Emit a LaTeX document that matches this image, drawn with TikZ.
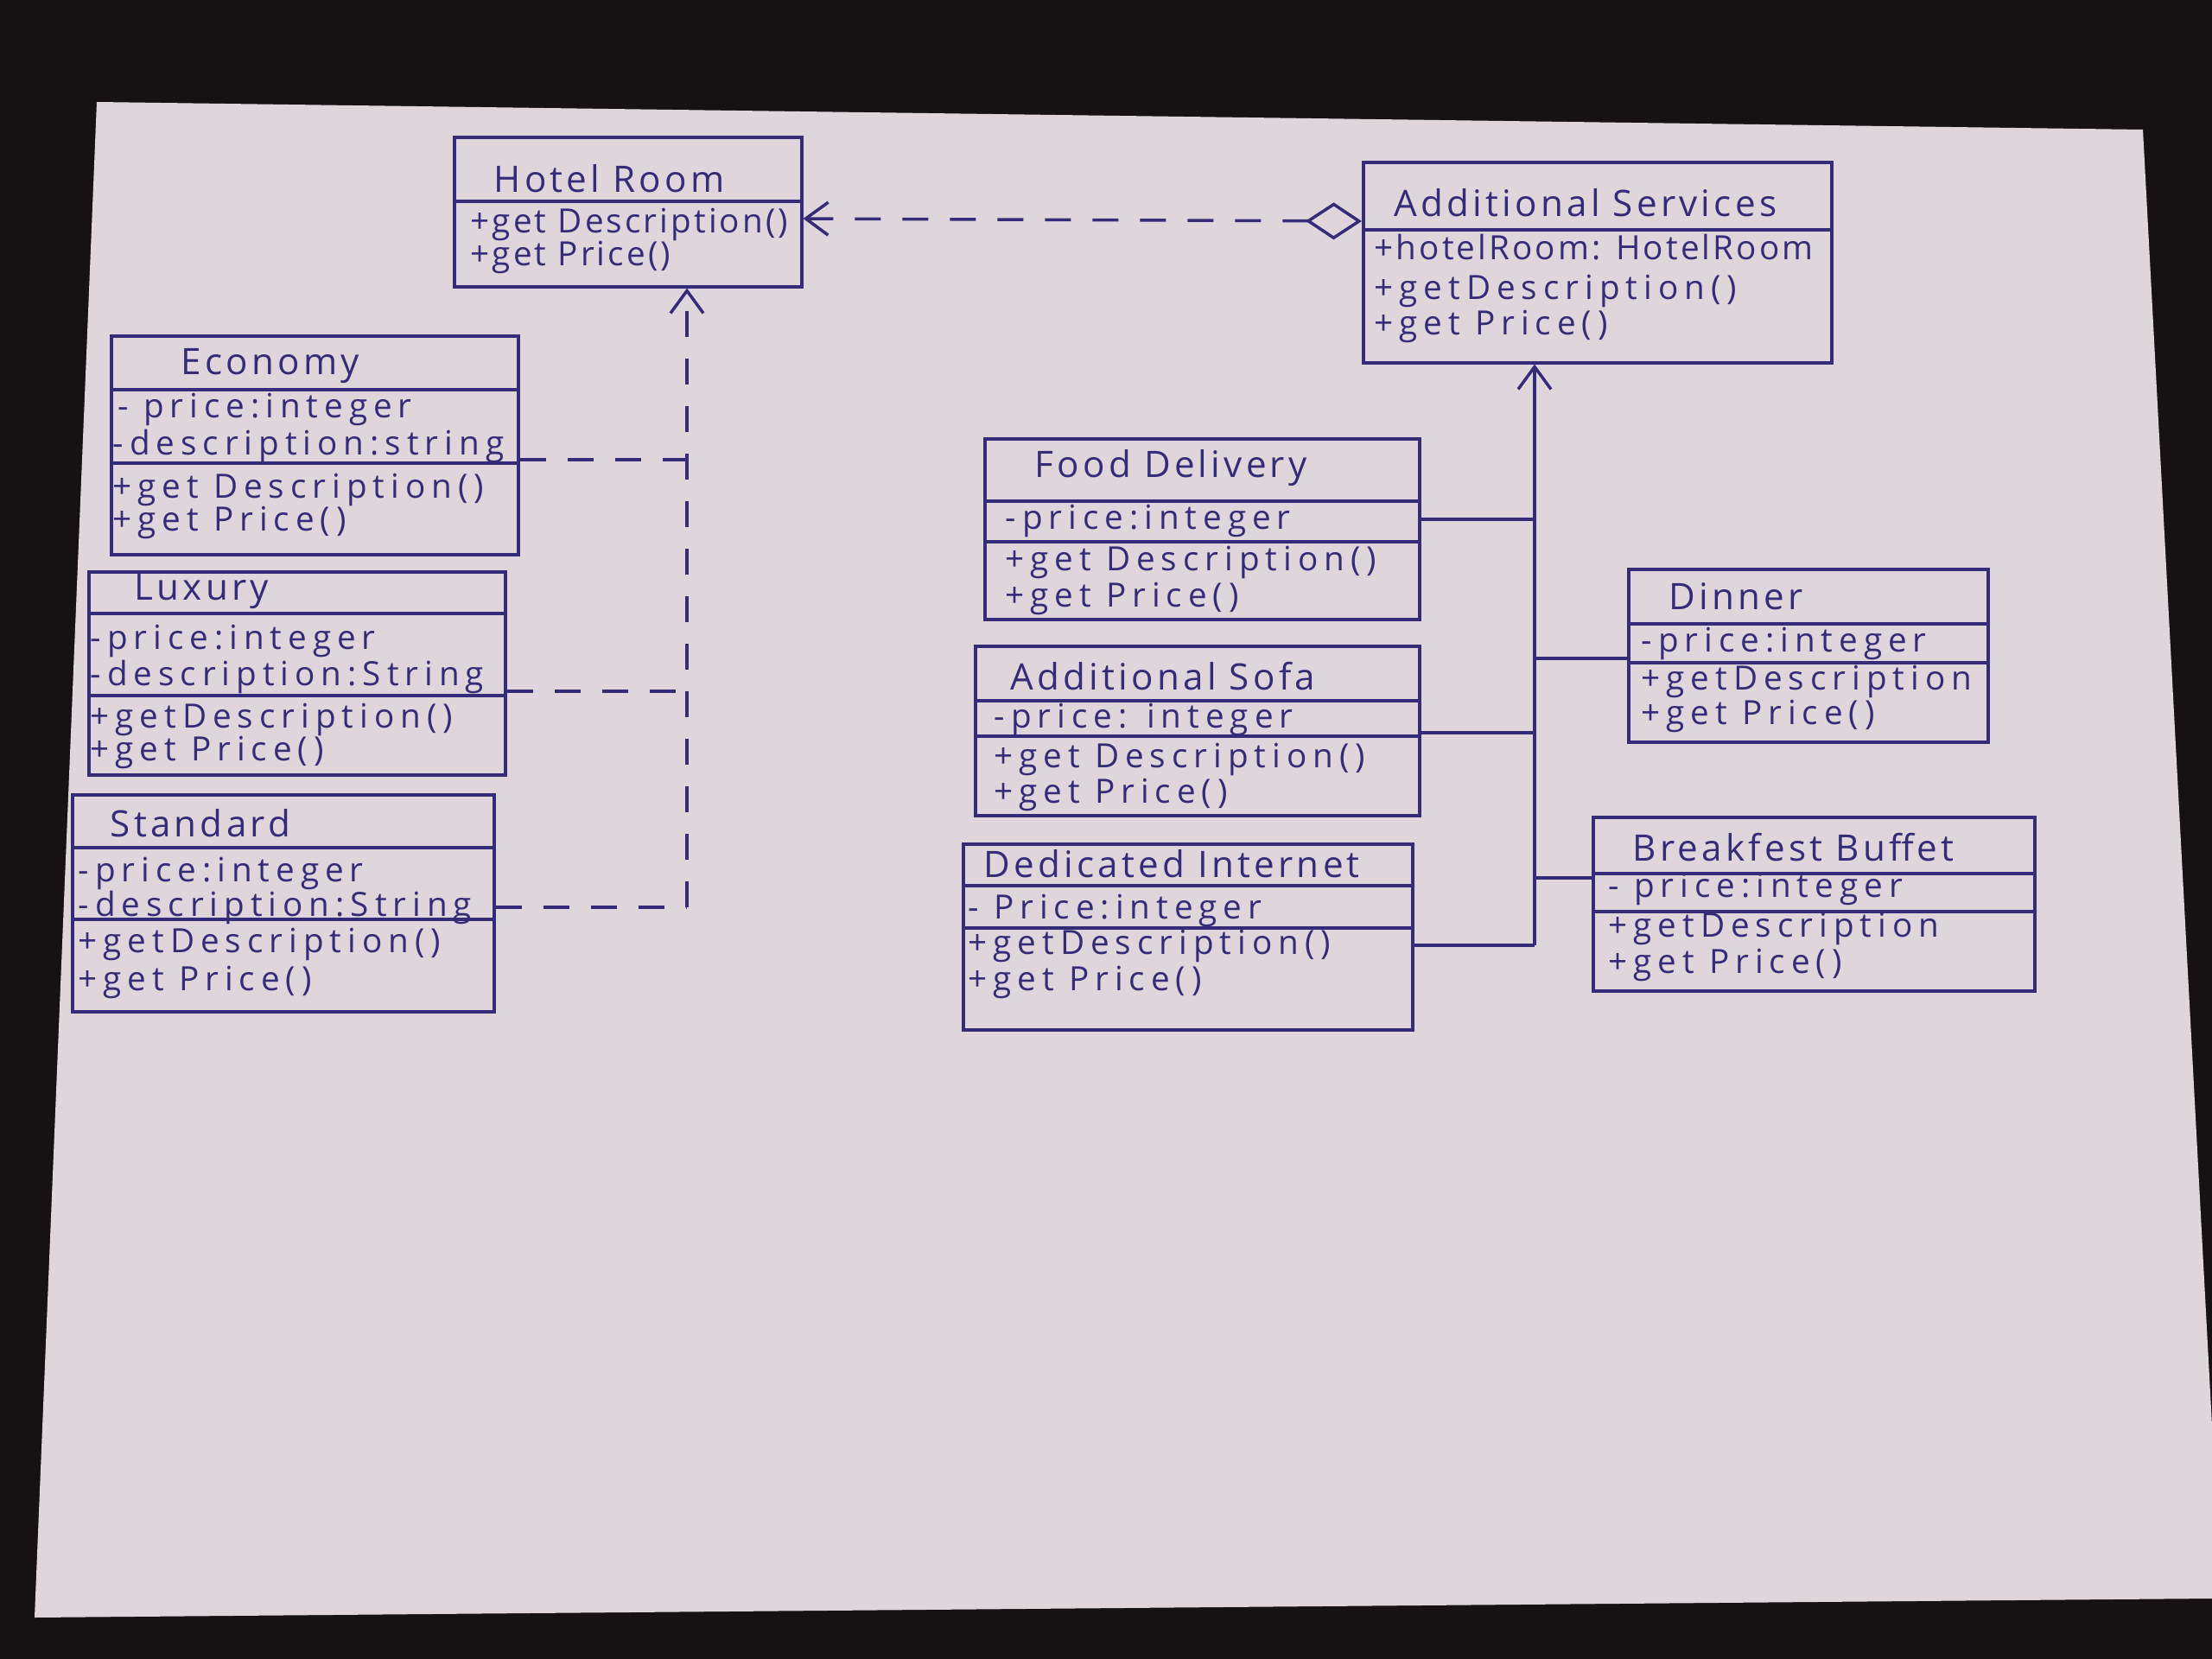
\documentclass[tikz,border=0pt]{standalone}
\usepackage{fontspec}
\setmainfont{Open Sans}[LetterSpace=18]
\usetikzlibrary{arrows.meta}

\definecolor{ink}{RGB}{52,44,120}
\definecolor{paper}{RGB}{222,214,219}
\definecolor{desk}{RGB}{22,18,20}

\tikzset{
  cls/.style={draw=ink, line width=1pt, anchor=north west, inner sep=0pt},
  rule/.style={draw=ink, line width=1pt},
  txt/.style={anchor=west, inner sep=0pt, text=ink, text height=3.5mm, text depth=0.8mm,
    font=\fontsize{11}{12}\selectfont},
  narrow/.style={txt, font=\fontsize{11}{12}\selectfont\addfontfeature{LetterSpace=8}},
  ttl/.style={txt, font=\fontsize{12}{13}\selectfont\addfontfeature{LetterSpace=10}},
  dep/.style={draw=ink, line width=1pt, dash pattern=on 3mm off 2.5mm},
  gen/.style={draw=ink, line width=1pt},
  vee/.tip={Straight Barb[length=2.6mm, width=3.8mm, line width=1pt]},
  agg/.tip={Diamond[open, length=6.5mm, width=4.3mm, line width=1pt]}
}

\begin{document}
\begin{tikzpicture}
  \useasboundingbox (0,0) rectangle (25.6,-19.2);
  \fill[desk] (0,0) rectangle (25.6,-19.2);
  \fill[paper] (1.12,-1.18) -- (24.80,-1.50) -- (25.60,-16.50) -- (25.60,-18.50) -- (0.40,-18.72) -- cycle;

  \node[cls, minimum width=4.02cm, minimum height=1.73cm] (hr) at (5.24,-1.57) {};
  \node[cls, minimum width=5.42cm, minimum height=2.32cm] (as) at (15.76,-1.86) {};
  \node[cls, minimum width=4.71cm, minimum height=2.53cm] (econ) at (1.27,-3.87) {};
  \node[cls, minimum width=4.82cm, minimum height=2.35cm] (lux) at (1.01,-6.60) {};
  \node[cls, minimum width=4.88cm, minimum height=2.51cm] (std) at (0.82,-9.18) {};
  \node[cls, minimum width=5.03cm, minimum height=2.09cm] (fd) at (11.38,-5.06) {};
  \node[cls, minimum width=5.14cm, minimum height=1.96cm] (sofa) at (11.27,-7.46) {};
  \node[cls, minimum width=5.20cm, minimum height=2.15cm] (di) at (11.13,-9.75) {};
  \node[cls, minimum width=4.16cm, minimum height=2.00cm] (dn) at (18.83,-6.57) {};
  \node[cls, minimum width=5.11cm, minimum height=2.01cm] (bb) at (18.42,-9.44) {};

  \draw[rule] (hr.west |- 0,-2.33) -- (hr.east |- 0,-2.33);
  \draw[rule] (as.west |- 0,-2.66) -- (as.east |- 0,-2.66);
  \draw[rule] (econ.west |- 0,-4.51) -- (econ.east |- 0,-4.51);
  \draw[rule] (econ.west |- 0,-5.36) -- (econ.east |- 0,-5.36);
  \draw[rule] (lux.west |- 0,-7.10) -- (lux.east |- 0,-7.10);
  \draw[rule] (lux.west |- 0,-8.05) -- (lux.east |- 0,-8.05);
  \draw[rule] (std.west |- 0,-9.81) -- (std.east |- 0,-9.81);
  \draw[rule] (std.west |- 0,-10.64) -- (std.east |- 0,-10.64);
  \draw[rule] (fd.west |- 0,-5.80) -- (fd.east |- 0,-5.80);
  \draw[rule] (fd.west |- 0,-6.27) -- (fd.east |- 0,-6.27);
  \draw[rule] (sofa.west |- 0,-8.11) -- (sofa.east |- 0,-8.11);
  \draw[rule] (sofa.west |- 0,-8.52) -- (sofa.east |- 0,-8.52);
  \draw[rule] (di.west |- 0,-10.25) -- (di.east |- 0,-10.25);
  \draw[rule] (di.west |- 0,-10.74) -- (di.east |- 0,-10.74);
  \draw[rule] (dn.west |- 0,-7.22) -- (dn.east |- 0,-7.22);
  \draw[rule] (dn.west |- 0,-7.67) -- (dn.east |- 0,-7.67);
  \draw[rule] (bb.west |- 0,-10.11) -- (bb.east |- 0,-10.11);
  \draw[rule] (bb.west |- 0,-10.55) -- (bb.east |- 0,-10.55);

  \node[ttl] (hr-t) at (5.71,-2.09) {Hotel Room};
  \node[narrow] (hr-1) at (5.44,-2.56) {+get Description()};
  \node[narrow] (hr-2) at (5.44,-2.94) {+get Price()};

  \node[ttl] (as-t) at (16.13,-2.37) {Additional Services};
  \node[narrow] (as-1) at (15.90,-2.87) {+hotelRoom: HotelRoom};
  \node[txt] (as-2) at (15.90,-3.33) {+getDescription()};
  \node[txt] (as-3) at (15.90,-3.74) {+get Price()};

  \node[ttl] (econ-t) at (2.09,-4.20) {Economy};
  \node[txt] (econ-1) at (1.36,-4.70) {- price:integer};
  \node[txt] (econ-2) at (1.30,-5.13) {-description:string};
  \node[txt] (econ-3) at (1.30,-5.63) {+get Description()};
  \node[txt] (econ-4) at (1.30,-6.01) {+get Price()};

  \node[ttl] (lux-t) at (1.55,-6.81) {Luxury};
  \node[txt] (lux-1) at (1.04,-7.38) {-price:integer};
  \node[txt] (lux-2) at (1.04,-7.80) {-description:String};
  \node[txt] (lux-3) at (1.04,-8.29) {+getDescription()};
  \node[txt] (lux-4) at (1.04,-8.67) {+get Price()};

  \node[ttl] (std-t) at (1.27,-9.55) {Standard};
  \node[txt] (std-1) at (0.90,-10.07) {-price:integer};
  \node[txt] (std-2) at (0.90,-10.47) {-description:String};
  \node[txt] (std-3) at (0.90,-10.89) {+getDescription()};
  \node[txt] (std-4) at (0.90,-11.33) {+get Price()};

  \node[ttl] (fd-t) at (11.97,-5.39) {Food Delivery};
  \node[txt] (fd-1) at (11.63,-5.99) {-price:integer};
  \node[txt] (fd-2) at (11.63,-6.47) {+get Description()};
  \node[txt] (fd-3) at (11.63,-6.89) {+get Price()};

  \node[ttl] (sofa-t) at (11.69,-7.85) {Additional Sofa};
  \node[txt] (sofa-1) at (11.50,-8.29) {-price: integer};
  \node[txt] (sofa-2) at (11.50,-8.75) {+get Description()};
  \node[txt] (sofa-3) at (11.50,-9.16) {+get Price()};

  \node[ttl] (di-t) at (11.38,-10.02) {Dedicated Internet};
  \node[txt] (di-1) at (11.20,-10.50) {- Price:integer};
  \node[txt] (di-2) at (11.20,-10.91) {+getDescription()};
  \node[txt] (di-3) at (11.20,-11.33) {+get Price()};

  \node[ttl] (dn-t) at (19.31,-6.92) {Dinner};
  \node[txt] (dn-1) at (18.99,-7.41) {-price:integer};
  \node[txt] (dn-2) at (18.99,-7.85) {+getDescription};
  \node[txt] (dn-3) at (18.99,-8.25) {+get Price()};

  \node[ttl] (bb-t) at (18.89,-9.83) {Breakfest Buffet};
  \node[txt] (bb-1) at (18.61,-10.25) {- price:integer};
  \node[txt] (bb-2) at (18.61,-10.71) {+getDescription};
  \node[txt] (bb-3) at (18.61,-11.13) {+get Price()};

  \draw[dep, vee-agg] (hr.east |- 0,-2.53) -- (as.west |- 0,-2.56);

  \coordinate (vbot) at (7.95,-10.50);
  \coordinate (ej) at (7.95,-5.32);
  \coordinate (lj) at (7.95,-8.00);
  \draw[dep, -vee] (vbot) -- (hr.south -| vbot);
  \draw[dep] (econ.east |- ej) -- (ej);
  \draw[dep] (lux.east |- lj) -- (lj);
  \draw[dep] (std.east |- vbot) -- (vbot);

  \coordinate (tbot) at (17.76,-10.94);
  \coordinate (fdj) at (17.76,-6.01);
  \coordinate (sfj) at (17.76,-8.48);
  \coordinate (dnj) at (17.76,-7.62);
  \coordinate (bbj) at (17.76,-10.16);
  \draw[gen, -vee] (tbot) -- (as.south -| tbot);
  \draw[gen] (fd.east |- fdj) -- (fdj);
  \draw[gen] (sofa.east |- sfj) -- (sfj);
  \draw[gen] (di.east |- tbot) -- (tbot);
  \draw[gen] (dnj) -- (dn.west |- dnj);
  \draw[gen] (bbj) -- (bb.west |- bbj);
\end{tikzpicture}
\end{document}
